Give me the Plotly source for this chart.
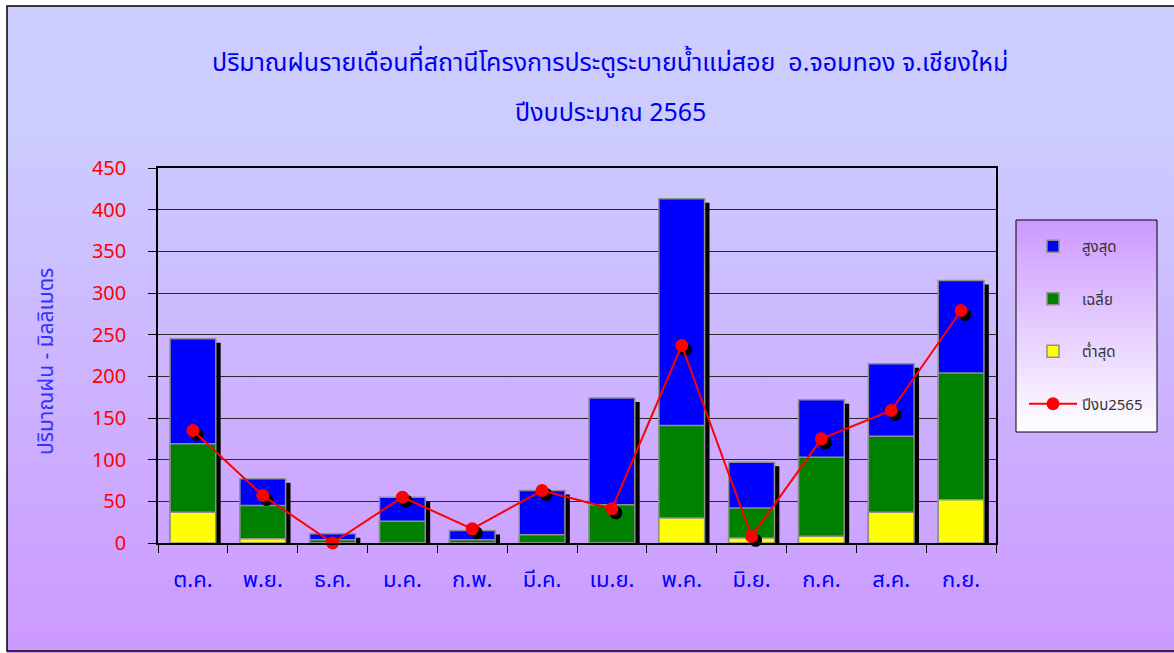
import base64
import plotly.graph_objects as go

months = ["ต.ค.", "พ.ย.", "ธ.ค.", "ม.ค.", "ก.พ.", "มี.ค.",
          "เม.ย.", "พ.ค.", "มิ.ย.", "ก.ค.", "ส.ค.", "ก.ย."]
rain_max = [245, 77, 11, 55, 15, 63, 174, 413, 97, 172, 215, 315]
rain_avg = [119, 45, 4, 26, 4, 10, 46, 141, 42, 103, 128, 204]
rain_min = [37, 5, 0, 0, 0, 0, 0, 30, 6, 8, 37, 52]
rain_2565 = [135, 57, 0, 55, 17, 63, 41, 237, 8, 125, 159, 279]

W, H = 1174, 653
FONT = "Tahoma, 'Noto Sans Thai', 'Noto Sans', 'DejaVu Sans', sans-serif"


def px(x):
    return x / W


def py(y):
    return 1 - y / H


def gradient_uri(top, bottom, start=0.0):
    svg = ('<svg xmlns="http://www.w3.org/2000/svg" width="100" height="100" preserveAspectRatio="none">'
           '<defs><linearGradient id="g" x1="0" y1="0" x2="0" y2="1">'
           f'<stop offset="0" stop-color="{top}"/><stop offset="{start}" stop-color="{top}"/>'
           f'<stop offset="1" stop-color="{bottom}"/></linearGradient></defs>'
           '<rect width="100" height="100" fill="url(#g)"/></svg>')
    return "data:image/svg+xml;base64," + base64.b64encode(svg.encode()).decode()


# plot area in pixels
X0, X1, Y0, Y1 = 158, 996, 168, 543
dx = 4 * 12 / (X1 - X0)      # 4px shift in category units
dy = 4 * 450 / (Y1 - Y0)     # 4px shift in mm

fig = go.Figure()

bar_w = 0.655
edge = dict(color="#8f8f8f", width=1.5)

# shadow strips (on shifted axes)
fig.add_trace(go.Bar(x=months, y=rain_max, xaxis="x2", yaxis="y2",
                     width=0.06, offset=bar_w / 2 + 0.01 - dx,
                     marker=dict(color="black", line=dict(width=0)),
                     showlegend=False, hoverinfo="skip"))
fig.add_trace(go.Bar(x=months, y=rain_max, name="สูงสุด", width=bar_w, offset=-bar_w / 2,
                     marker=dict(color="#0000FF", line=edge), legendgroup="a"))
fig.add_trace(go.Bar(x=months, y=rain_avg, name="เฉลี่ย", width=bar_w, offset=-bar_w / 2,
                     marker=dict(color="#008000", line=edge), legendgroup="b"))
fig.add_trace(go.Bar(x=months, y=rain_min, name="ต่ำสุด", width=bar_w, offset=-bar_w / 2,
                     marker=dict(color="#FFFF00", line=edge), legendgroup="c"))

# marker shadows
fig.add_trace(go.Scatter(x=months, y=rain_2565, xaxis="x2", yaxis="y2", mode="markers",
                         marker=dict(color="black", size=13), cliponaxis=False,
                         showlegend=False, hoverinfo="skip"))
fig.add_trace(go.Scatter(x=months, y=rain_2565, xaxis="x3", yaxis="y3", name="ปีงบ2565",
                         mode="lines+markers", line=dict(color="#FF0000", width=2),
                         marker=dict(color="#FF0000", size=13), cliponaxis=False,
                         legendgroup="d"))

xdom = [px(X0), px(X1)]
ydom = [py(Y1), py(Y0)]

fig.update_layout(
    width=W, height=H,
    margin=dict(l=0, r=0, t=0, b=0, autoexpand=False),
    paper_bgcolor="white",
    plot_bgcolor="#C0C0C0",
    barmode="overlay",
    font=dict(family=FONT),
    xaxis=dict(domain=xdom, type="category", range=[-0.5, 11.5], tickson="boundaries",
               ticks="outside", ticklen=8, tickcolor="black", showline=True, linecolor="black",
               linewidth=1.5, mirror=True, showgrid=False, automargin=False,
               tickfont=dict(color="#0000FF", size=22), ticklabelstandoff=16),
    yaxis=dict(domain=ydom, range=[0, 450], dtick=50, ticks="outside", ticklen=8,
               tickcolor="black", showline=True, linecolor="black", linewidth=1.5, mirror=True,
               gridcolor="#2a2a2a", gridwidth=1.2, zeroline=False, automargin=False,
               tickfont=dict(color="#FF0000", size=20), ticklabelstandoff=18),
    xaxis2=dict(overlaying="x", type="category", range=[-0.5 - dx, 11.5 - dx], visible=False),
    yaxis2=dict(overlaying="y", range=[dy, 450 + dy], visible=False),
    xaxis3=dict(overlaying="x", type="category", range=[-0.5, 11.5], visible=False),
    yaxis3=dict(overlaying="y", range=[0, 450], visible=False),
    legend=dict(x=px(1024), y=py(230), xanchor="left", yanchor="top",
                bgcolor="rgba(0,0,0,0)", borderwidth=0, traceorder="grouped",
                itemwidth=48, tracegroupgap=30, font=dict(size=15, color="#333333")),
    showlegend=True,
)

fig.add_layout_image(dict(source=gradient_uri("#CCCCFF", "#CC99FF", 0.2), xref="paper", yref="paper",
                          x=px(7), y=py(6), sizex=1 - px(7), sizey=py(6), xanchor="left",
                          yanchor="top", sizing="stretch", layer="below"))
fig.add_layout_image(dict(source=gradient_uri("#CC99FF", "#FFFFFF"), xref="paper", yref="paper",
                          x=px(1016), y=py(220), sizex=px(1157) - px(1016), sizey=py(220) - py(432),
                          xanchor="left", yanchor="top", sizing="stretch", layer="below"))

fig.add_shape(type="rect", xref="paper", yref="paper", x0=px(7), y0=py(6), x1=1.01, y1=py(651),
              line=dict(color="black", width=1.5))
fig.add_shape(type="rect", xref="paper", yref="paper", x0=px(1016), y0=py(220), x1=px(1157),
              y1=py(432), line=dict(color="black", width=1))

fig.add_annotation(text="ปริมาณฝนรายเดือนที่สถานีโครงการประตูระบายน้ำแม่สอย  อ.จอมทอง จ.เชียงใหม่",
                   x=px(610), y=py(42), xref="paper", yref="paper", showarrow=False,
                   font=dict(size=25, color="#0000EE"))
fig.add_annotation(text="ปีงบประมาณ 2565", x=px(610), y=py(92), xref="paper", yref="paper",
                   showarrow=False, font=dict(size=25, color="#0000EE"))
fig.add_annotation(text="ปริมาณฝน - มิลลิเมตร", x=px(46), y=py(362), xref="paper", yref="paper",
                   xanchor="center", yanchor="middle", showarrow=False, textangle=-90,
                   font=dict(size=21, color="#3333FF"))

fig.write_html("out.html", config={"displayModeBar": False},
               post_script="document.body.style.margin='0';")
